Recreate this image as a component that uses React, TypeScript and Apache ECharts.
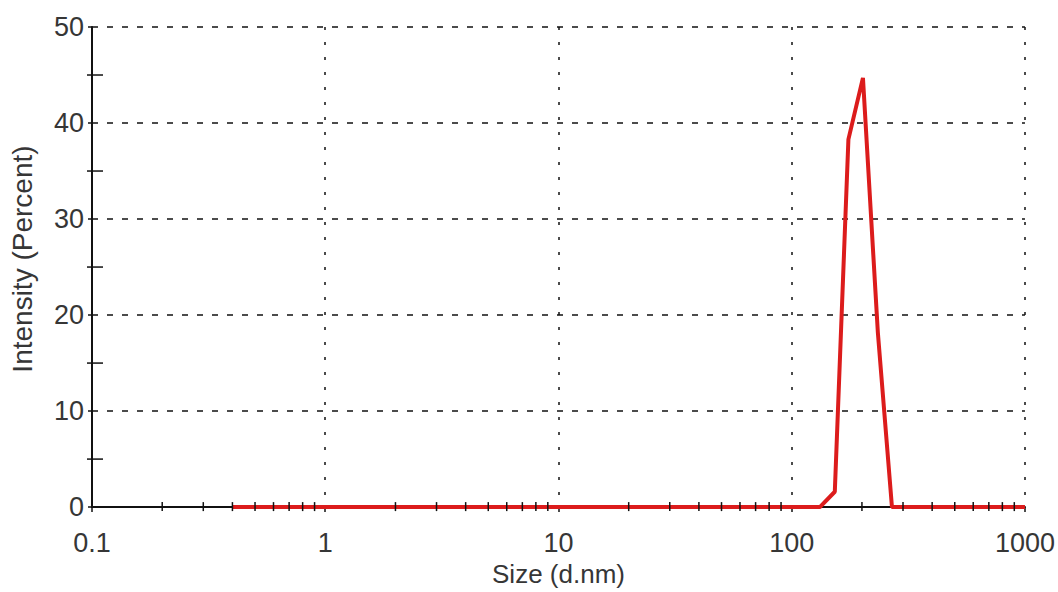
import React, { useEffect, useRef } from "react";
import * as echarts from "echarts";

// Particle size distribution (intensity)
const sizes = [0.4, 132, 153, 175, 202, 234, 269, 1000];
const intensities = [0, 0, 1.6, 38.3, 44.7, 18.2, 0, 0];

const xTickLabels = ["0.1", "1", "10", "100", "1000"];
const xMinorTicks = [
  0.2, 0.3, 0.4, 0.5, 0.6, 0.7, 0.8, 0.9,
  2, 3, 4, 5, 6, 7, 8, 9,
  20, 30, 40, 50, 60, 70, 80, 90,
  200, 300, 400, 500, 600, 700, 800, 900,
];
const yMinorTicks = [5, 15, 25, 35, 45];

const FONT = "'Liberation Sans', Arial, sans-serif";
const INK = "#111111";
const LABEL = "#363636";

export default function App() {
  const ref = useRef<HTMLDivElement>(null);

  useEffect(() => {
    if (!ref.current) return;
    const chart = echarts.init(ref.current, undefined, { renderer: "svg" });
    const option: any = {
      animation: false,
      backgroundColor: "#ffffff",
      grid: { left: 92, right: 28, top: 27, bottom: 84 },
      xAxis: {
        type: "log",
        logBase: 10,
        min: 0.1,
        max: 1000,
        name: "Size (d.nm)",
        nameLocation: "middle",
        nameGap: 53,
        nameTextStyle: { fontFamily: FONT, fontSize: 26, color: LABEL },
        axisLine: { onZero: false, lineStyle: { color: INK, width: 2 } },
        axisTick: { show: true, length: 5, lineStyle: { color: INK, width: 1.5 } },
        axisLabel: {
          fontFamily: FONT,
          fontSize: 27,
          color: LABEL,
          margin: 22,
          formatter: (v: number, i: number) => xTickLabels[i] ?? String(v),
        },
        splitLine: {
          show: true,
          lineStyle: { color: INK, width: 1.5, type: [3, 12] },
        },
      },
      yAxis: {
        type: "value",
        min: 0,
        max: 50,
        interval: 10,
        name: "Intensity (Percent)",
        nameLocation: "middle",
        nameGap: 56,
        nameTextStyle: {
          fontFamily: FONT,
          fontSize: 28,
          color: LABEL,
          padding: [0, 0, 0, 16],
        },
        axisLine: { show: true, lineStyle: { color: INK, width: 2 } },
        axisTick: { show: true, length: 4, lineStyle: { color: INK, width: 1.5 } },
        axisLabel: { fontFamily: FONT, fontSize: 27, color: LABEL, margin: 8 },
        splitLine: {
          show: true,
          lineStyle: { color: INK, width: 1.5, type: [6, 9] },
        },
      },
      series: [
        {
          type: "line",
          data: sizes.map((s, i) => [s, intensities[i]]),
          symbol: "none",
          lineStyle: { color: "#dc1c1c", width: 4 },
          z: 3,
          clip: true,
        },
        {
          type: "custom",
          data: xMinorTicks.map((v) => [v, 0]),
          clip: false,
          z: 4,
          silent: true,
          renderItem: (_p: any, api: any) => {
            const pt = api.coord([api.value(0), 0]);
            return {
              type: "line",
              shape: { x1: pt[0], y1: pt[1] - 5, x2: pt[0], y2: pt[1] + 4 },
              style: { stroke: INK, lineWidth: 1.5 },
            };
          },
        },
        {
          type: "custom",
          data: yMinorTicks.map((v) => [0.1, v]),
          clip: false,
          z: 4,
          silent: true,
          renderItem: (_p: any, api: any) => {
            const pt = api.coord([0.1, api.value(1)]);
            return {
              type: "line",
              shape: { x1: pt[0] - 5, y1: pt[1], x2: pt[0] + 11, y2: pt[1] },
              style: { stroke: INK, lineWidth: 1.5 },
            };
          },
        },
      ],
    };
    chart.setOption(option);
    return () => chart.dispose();
  }, []);

  return (
    <div
      ref={ref}
      style={{ position: "fixed", left: 0, top: 0, width: 1058, height: 592, background: "#fff" }}
    />
  );
}
